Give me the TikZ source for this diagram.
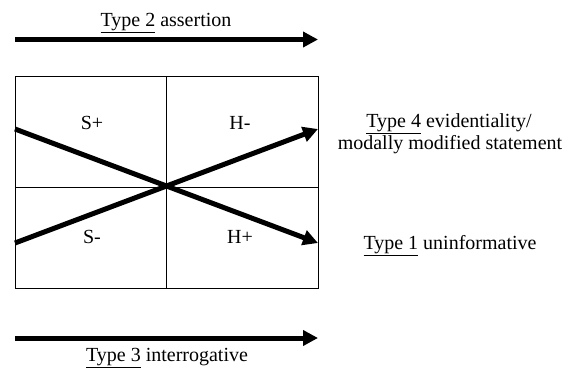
\documentclass[tikz,border=0pt]{standalone}
\usepackage{fontspec}
\setmainfont{Liberation Serif}
\usetikzlibrary{arrows.meta}
\begin{document}
\begin{tikzpicture}[x=1pt,y=-1pt,
  lbl/.style={font=\fontsize{20}{24}\selectfont, inner sep=0pt, align=center},
  bigarrow/.style={line width=5pt, -{Triangle[length=15pt,width=15pt]}},
  gridline/.style={line width=1pt}]
\useasboundingbox (0,0) rectangle (570,368);
% grid box
\node[draw, gridline, minimum width=303pt, minimum height=212pt, inner sep=0pt, anchor=north west] (box) at (15,76) {};
\coordinate (ctr) at (166,187);
\draw[gridline] (box.north -| ctr) -- (box.south -| ctr);
\draw[gridline] (box.west |- ctr) -- (box.east |- ctr);
% cell labels
\node[lbl] (splus) at (92,123) {S+};
\node[lbl] (hminus) at (240,123) {H-};
\node[lbl] (sminus) at (92,237) {S-};
\node[lbl] (hplus) at (240,237) {H+};
% crossing arrows
\coordinate (a1s) at (15,129);
\coordinate (a1e) at (318,243);
\coordinate (a2s) at (15,243);
\coordinate (a2e) at (318,129);
\draw[bigarrow] (a1s) -- (a1e);
\draw[bigarrow] (a2s) -- (a2e);
% top arrow
\coordinate (ts) at (15,39.5);
\coordinate (te) at (318,39.5);
\draw[bigarrow] (ts) -- (te);
\node[lbl, anchor=base] (t2) at (166,26) {\underline{Type 2} assertion};
% bottom arrow
\coordinate (bs) at (15,338);
\coordinate (be) at (318,338);
\draw[bigarrow] (bs) -- (be);
\node[lbl, anchor=base] (t3) at (167,361) {\underline{Type 3} interrogative};
% right labels
\node[lbl, anchor=base] (t4a) at (449,127) {\underline{Type 4} evidentiality/};
\node[lbl, anchor=base] (t4b) at (450,149) {modally modified statement};
\node[lbl, anchor=base] (t1) at (450,249) {\underline{Type 1} uninformative};
\end{tikzpicture}
\end{document}
